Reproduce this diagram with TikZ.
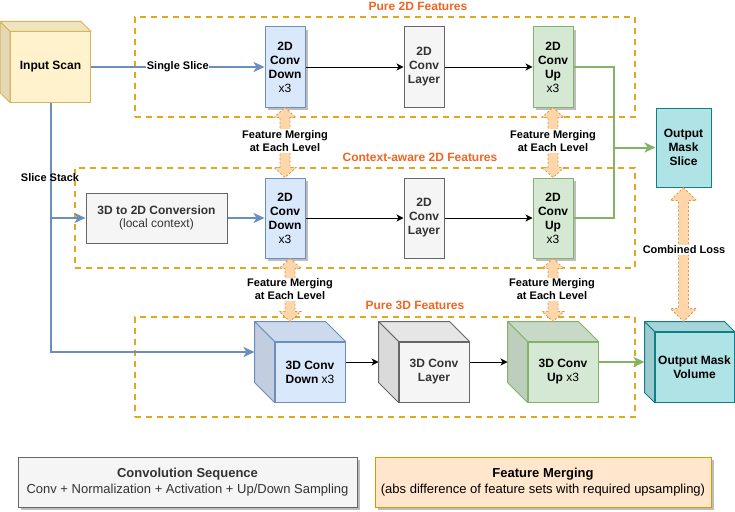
\documentclass[tikz,border=0pt]{standalone}
\usepackage{fontspec}
\setmainfont{Liberation Sans}
\usetikzlibrary{arrows.meta,calc,shadows}
\definecolor{bluef}{HTML}{DAE8FC}\definecolor{bluel}{HTML}{6C8EBF}
\definecolor{greenf}{HTML}{D5E8D4}\definecolor{greenl}{HTML}{82B366}
\definecolor{greyf}{HTML}{F5F5F5}\definecolor{greyl}{HTML}{666666}\definecolor{greyt}{HTML}{333333}
\definecolor{yelf}{HTML}{FFF2CC}\definecolor{yell}{HTML}{D6B656}
\definecolor{tealf}{HTML}{B0E3E6}\definecolor{teall}{HTML}{0E8088}
\definecolor{orf}{HTML}{FFE6CC}\definecolor{orl}{HTML}{D79B00}
\definecolor{grpl}{HTML}{E1A91A}\definecolor{ttlc}{HTML}{F26522}
\definecolor{fmf}{HTML}{FFD6AA}\definecolor{fml}{HTML}{D9984A}
\definecolor{shadc}{HTML}{BDBDBD}
\newcommand{\cubefaces}[4]{%
  \filldraw[fill=#3!94!black, draw=#4, line width=1pt, line join=round] (#1.north west) -- ++(-#2,-#2) -- ($(#1.north east)+(-#2,-#2)$) -- (#1.north east) -- cycle;
  \filldraw[fill=#3!89!black, draw=#4, line width=1pt, line join=round] (#1.north west) -- ++(-#2,-#2) -- ($(#1.south west)+(-#2,-#2)$) -- (#1.south west) -- cycle;
}
\newcommand{\fmarrow}[5]{%
  \path[fmstyle] let \p1=(#1), \p2=(#2) in
   (\x1,\y1) -- (\x1+#4pt,\y1-#5pt) -- (\x1+#3pt,\y1-#5pt) -- (\x1+#3pt,\y2+#5pt) -- (\x1+#4pt,\y2+#5pt)
   -- (\x1,\y2) -- (\x1-#4pt,\y2+#5pt) -- (\x1-#3pt,\y2+#5pt) -- (\x1-#3pt,\y1-#5pt) -- (\x1-#4pt,\y1-#5pt) -- cycle;
}
\begin{document}
\begin{tikzpicture}[x=1pt,y=-1pt,
  base/.style={font=\fontsize{12}{14}\selectfont\bfseries, align=center, inner sep=0pt, line width=1pt},
  blk2d/.style={base, rectangle, minimum width=40pt, minimum height=80pt},
  bluebox/.style={fill=bluef, draw=bluel},
  greenbox/.style={fill=greenf, draw=greenl},
  greybox/.style={fill=greyf, draw=greyl, text=greyt},
  yelbox/.style={fill=yelf, draw=yell},
  tealbox/.style={fill=tealf, draw=teall},
  shad/.style={drop shadow={shadow xshift=3pt, shadow yshift=-3pt, fill=shadc, opacity=1}},
  grpbox/.style={draw=grpl, line width=2pt, dash pattern=on 6pt off 5pt, rectangle, inner sep=0pt},
  ttl/.style={font=\fontsize{12}{14}\selectfont\bfseries, text=ttlc, inner sep=0pt},
  lbl/.style={font=\fontsize{11}{13}\selectfont\bfseries, align=center, inner sep=1pt},
  wlbl/.style={lbl, fill=white},
  blarrow/.style={draw=bluel, line width=2pt, -{Stealth[length=11pt,width=10pt,inset=3pt]}},
  grline/.style={draw=greenl, line width=2pt},
  grarrow/.style={draw=greenl, line width=2pt, -{Stealth[length=11pt,width=10pt,inset=3pt]}},
  blkarrow/.style={draw=black, line width=1pt, -{Stealth[length=7pt,width=7pt,inset=2pt]}},
  fmstyle/.style={fill=fmf, draw=fml, line width=0.8pt, dash pattern=on 2pt off 2pt}
]
\fill[white] (0,0) rectangle (735,511);
\useasboundingbox (0,0) rectangle (735,511);

% groups
\node[grpbox, minimum width=500pt, minimum height=100pt] (g1) at (385,67) {};
\node[grpbox, minimum width=560pt, minimum height=100pt] (g2) at (355,218) {};
\node[grpbox, minimum width=500pt, minimum height=100pt] (g3) at (385,367) {};
\node[ttl] (t1) at (418,6) {Pure 2D Features};
\node[ttl] (t2) at (420,157) {Context-aware 2D Features};
\node[ttl] (t3) at (415,305) {Pure 3D Features};

% input scan
\node[base, yelbox, minimum width=80pt, minimum height=70pt] (inp) at (50.5,67) {Input Scan};
\cubefaces{inp}{10}{yelf}{yell}

% 2D rows
\node[blk2d, bluebox, shad] (td1) at (285,67) {2D\\Conv\\Down\\\mdseries x3};
\node[blk2d, greybox] (tl1) at (424,67) {2D\\Conv\\Layer};
\node[blk2d, greenbox, shad] (tu1) at (553,67) {2D\\Conv\\Up\\\mdseries x3};
\node[base, greybox, minimum width=141pt, minimum height=50pt, font=\fontsize{12}{13}\selectfont\bfseries] (conv) at (156.5,218) {3D to 2D Conversion\\\mdseries (local context)};
\node[blk2d, bluebox, shad] (td2) at (285,218) {2D\\Conv\\Down\\\mdseries x3};
\node[blk2d, greybox] (tl2) at (424,218) {2D\\Conv\\Layer};
\node[blk2d, greenbox, shad] (tu2) at (553,218) {2D\\Conv\\Up\\\mdseries x3};
\node[base, tealbox, minimum width=55pt, minimum height=79pt] (oms) at (683.5,147.5) {Output\\Mask\\Slice};

% 3D row
\node[base, bluebox, minimum width=70pt, minimum height=60pt] (c3d) at (310,372) {3D Conv\\Down {\mdseries x3}};
\cubefaces{c3d}{20}{bluef}{bluel}
\node[base, greybox, minimum width=70pt, minimum height=60pt] (l3d) at (434,372) {3D Conv\\Layer};
\cubefaces{l3d}{20}{greyf}{greyl}
\node[base, greenbox, minimum width=70pt, minimum height=60pt] (u3d) at (563,372) {3D Conv\\Up {\mdseries x3}};
\cubefaces{u3d}{20}{greenf}{greenl}
\node[base, tealbox, minimum width=79pt, minimum height=70pt] (vol) at (694.5,367) {Output Mask\\Volume};
\cubefaces{vol}{10}{tealf}{teall}

% connectors
\draw[blarrow] (inp.east) -- node[wlbl, inner sep=0.5pt] (sslbl) {Single Slice} (td1.west);
\draw[blarrow] (inp.south) |- ($(c3d.west)+(-20,-20)$);
\node[lbl] (sstack) at (50,178) {Slice Stack};
\draw[blarrow] (inp.south |- conv.west) -- (conv.west);
\draw[blarrow] (conv.east) -- (td2.west);
\draw[blkarrow] (td1.east) -- (tl1.west);
\draw[blkarrow] (tl1.east) -- (tu1.west);
\draw[blkarrow] (td2.east) -- (tl2.west);
\draw[blkarrow] (tl2.east) -- (tu2.west);
\coordinate (gm) at (614,147.5);
\draw[grline] (tu1.east) -| (gm);
\draw[grline] (tu2.east) -| (gm);
\draw[grarrow] (gm) -- (oms.west);
\draw[blkarrow] ($(c3d.east)+(0,-10)$) -- ($(l3d.west)+(-20,-10)$);
\draw[blkarrow] ($(l3d.east)+(0,-10)$) -- ($(u3d.west)+(-20,-10)$);
\draw[grarrow] ($(u3d.east)+(0,-10)$) -- ($(vol.west)+(-10,-5)$);

% feature merging arrows
\fmarrow{td1.south}{td2.north}{5}{11}{10}
\fmarrow{tu1.south}{tu2.north}{5}{11}{10}
\fmarrow{$(td2.south)+(5,0)$}{$(c3d.north)+(-20,-20)$}{5}{11}{10}
\fmarrow{tu2.south}{$(u3d.north)+(-10,-20)$}{5}{11}{10}
\fmarrow{oms.south}{$(vol.north)+(-11,-10)$}{5}{13}{13}
\node[wlbl] (fm1) at (285,141) {Feature Merging\\at Each Level};
\node[wlbl] (fm2) at (553,141) {Feature Merging\\at Each Level};
\node[wlbl] (fm3) at (290,289.5) {Feature Merging\\at Each Level};
\node[wlbl] (fm4) at (552,289.5) {Feature Merging\\at Each Level};
\node[wlbl] (cl) at (684,250) {Combined Loss};

% legend
\node[greybox, shad, line width=1pt, minimum width=339pt, minimum height=50pt, align=center, inner sep=0pt, font=\fontsize{13}{16}\selectfont] (leg1) at (187.5,482) {\textbf{Convolution Sequence}\\Conv + Normalization + Activation + Up/Down Sampling};
\node[fill=orf, draw=orl, shad, line width=1pt, minimum width=336pt, minimum height=50pt, align=center, inner sep=0pt, font=\fontsize{13}{16}\selectfont] (leg2) at (543,482) {\textbf{Feature Merging}\\(abs difference of feature sets with required upsampling)};
\end{tikzpicture}
\end{document}
